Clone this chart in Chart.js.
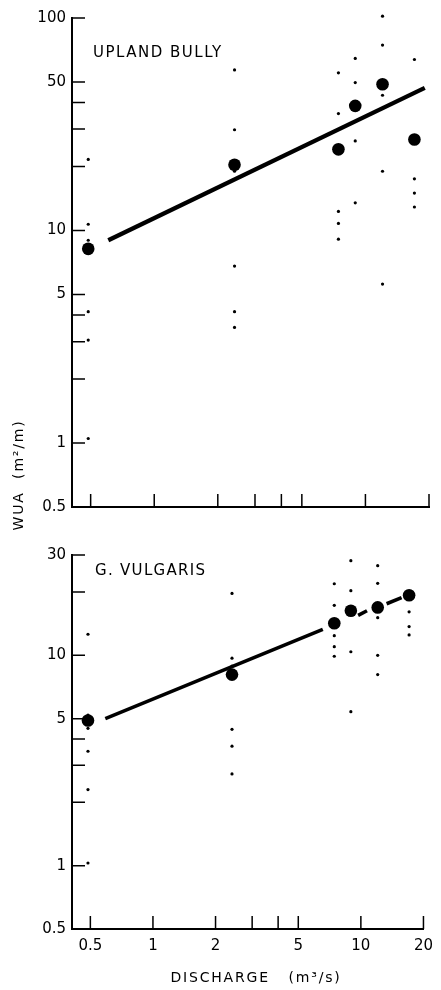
<!DOCTYPE html>
<html>
<head>
<meta charset="utf-8">
<script src="https://cdn.jsdelivr.net/npm/chart.js@4.4.0/dist/chart.umd.min.js"></script>
<style>
  body { margin: 0; background: #fff; }
  canvas { display: block; }
</style>
</head>
<body>
<canvas id="bully" width="441" height="540"></canvas>
<canvas id="vulgaris" width="441" height="450"></canvas>
<script>
// discharge of the six sampled flows (m3/s)
const discharge = [0.487, 2.40, 7.45, 8.95, 12.05, 17.06];

// upland bully: mean WUA and individual samples per flow
const bullyMean = [8.2, 20.4, 24.1, 38.6, 48.8, 26.8];
const bullySamples = [
    [21.6, 10.7, 9.0, 4.15, 3.05, 1.05],
    [57, 29.8, 19, 6.8, 4.15, 3.5],
    [55.2, 35.5, 12.3, 10.8, 9.1],
    [64.5, 49.7, 26.4, 13.5],
    [102, 74.6, 43.3, 19.0, 5.6],
    [63.8, 17.5, 15.0, 12.9]
];
const bullyFitX = [0.606, 19.1];
const bullyFitY = [9.0, 46.9];

// G. vulgaris
const vulgMean = [4.9, 8.1, 14.2, 16.3, 16.9, 19.3];
const vulgSamples = [
    [12.6, 5.2, 4.5, 3.5, 2.3, 1.03],
    [19.7, 9.7, 8.9, 4.45, 3.7, 2.73],
    [21.9, 17.3, 12.4, 11.0, 9.9],
    [28.2, 20.3, 10.4, 5.4],
    [26.7, 22.0, 15.1, 10.0, 8.1],
    [32.7, 16.1, 13.7, 12.5]
];
// fitted line is broken where it passes the dots: pairs of endpoints
const vulgFitX = [0.59, 6.56, 9.7, 10.7, 13.3, 15.7];
const vulgFitY = [5.0, 13.3, 15.5, 16.3, 17.6, 18.8];

// ticks
const xTicks = [0.5, 1, 2, 3, 4, 5, 10, 20];
const xTickLabels = [0.5, 1, 2, 5, 10, 20];
const bullyTicks = [0.5, 1, 2, 3, 4, 5, 10, 20, 30, 40, 50, 100];
const bullyTickLabels = [0.5, 1, 5, 10, 50, 100];
const vulgTicks = [0.5, 1, 2, 3, 4, 5, 10, 20, 30];
const vulgTickLabels = [0.5, 1, 5, 10, 30];

Chart.defaults.font.family = 'DejaVu Sans';
Chart.defaults.font.size = 14;
Chart.defaults.color = '#000';

// tick marks point into the plot in the original
const inwardTicks = {
    id: 'inwardTicks',
    afterDraw(chart) {
        const ctx = chart.ctx;
        const xs = chart.scales.x, ys = chart.scales.y;
        ctx.save();
        ctx.strokeStyle = '#000';
        ctx.lineWidth = 1.5;
        ctx.beginPath();
        xs.ticks.forEach(t => {
            const px = xs.getPixelForValue(t.value);
            ctx.moveTo(px, xs.top);
            ctx.lineTo(px, xs.top - 13);
        });
        ys.ticks.forEach(t => {
            if (t.value <= ys.min) return;
            const py = ys.getPixelForValue(t.value);
            ctx.moveTo(ys.right, py);
            ctx.lineTo(ys.right + 13, py);
        });
        ctx.stroke();
        ctx.restore();
    }
};

const textLabels = {
    id: 'textLabels',
    afterDraw(chart, args, opts) {
        const ctx = chart.ctx;
        (opts.items || []).forEach(it => {
            ctx.save();
            ctx.fillStyle = '#000';
            ctx.font = it.font;
            ctx.letterSpacing = it.spacing || '0px';
            ctx.textAlign = it.align || 'left';
            ctx.textBaseline = it.baseline || 'alphabetic';
            ctx.translate(it.x, it.y);
            if (it.rotate) ctx.rotate(it.rotate);
            ctx.fillText(it.text, 0, 0);
            ctx.restore();
        });
    }
};

function pointsOf(samples) {
    return discharge.flatMap((x, i) => samples[i].map(y => ({ x, y })));
}

function makeChart(id, o) {
    return new Chart(document.getElementById(id), {
        type: 'scatter',
        data: {
            datasets: [
                {
                    data: pointsOf(o.samples),
                    pointRadius: 1.6, pointBorderWidth: 0,
                    backgroundColor: '#000', clip: 10
                },
                {
                    data: discharge.map((x, i) => ({ x, y: o.mean[i] })),
                    pointRadius: 6.3, pointBorderWidth: 0,
                    backgroundColor: '#000', clip: 10
                },
                {
                    data: o.fitX.map((x, i) => ({ x, y: o.fitY[i] })),
                    showLine: true, pointRadius: 0,
                    borderColor: '#000', borderWidth: o.lineWidth,
                    segment: {
                        borderColor: c => (c.p0DataIndex % 2 ? 'rgba(0,0,0,0)' : '#000')
                    }
                }
            ]
        },
        options: {
            responsive: false,
            animation: false,
            layout: { autoPadding: false, padding: { top: o.padTop, left: 0, right: 12, bottom: 0 } },
            plugins: {
                legend: { display: false },
                tooltip: { enabled: false },
                textLabels: { items: o.texts }
            },
            scales: {
                x: {
                    type: 'logarithmic',
                    min: 0.408, max: 20,
                    afterFit: s => { s.height = o.xHeight; },
                    afterBuildTicks: s => { s.ticks = xTicks.map(v => ({ value: v })); },
                    grid: { display: false, drawTicks: false },
                    border: { display: true, color: '#000', width: 2 },
                    ticks: {
                        display: o.showXLabels,
                        autoSkip: false, maxRotation: 0, padding: 8,
                        font: { size: 15 },
                        callback: v => (xTickLabels.includes(v) ? String(v) : '')
                    }
                },
                y: {
                    type: 'logarithmic',
                    min: 0.5, max: o.yMax,
                    afterFit: s => { s.width = 72; },
                    afterBuildTicks: s => { s.ticks = o.yTicks.map(v => ({ value: v })); },
                    grid: { display: false, drawTicks: false },
                    border: { display: true, color: '#000', width: 2 },
                    ticks: {
                        autoSkip: false, padding: 6,
                        font: { size: 15 },
                        callback: v => (o.yLabels.includes(v) ? String(v) : '')
                    }
                }
            }
        },
        plugins: [inwardTicks, textLabels]
    });
}

makeChart('bully', {
    samples: bullySamples, mean: bullyMean,
    fitX: bullyFitX, fitY: bullyFitY, lineWidth: 4.3,
    yMax: 100, yTicks: bullyTicks, yLabels: bullyTickLabels,
    padTop: 18, xHeight: 33, showXLabels: false,
    texts: [
        { text: 'UPLAND BULLY', x: 93, y: 57, font: '15px DejaVu Sans', spacing: '1.5px' },
        { text: 'WUA  (m²/m)', x: 19, y: 475, font: '14px DejaVu Sans', spacing: '1.8px',
          align: 'center', baseline: 'middle', rotate: -Math.PI / 2 }
    ]
});

makeChart('vulgaris', {
    samples: vulgSamples, mean: vulgMean,
    fitX: vulgFitX, fitY: vulgFitY, lineWidth: 3.6,
    yMax: 30, yTicks: vulgTicks, yLabels: vulgTickLabels,
    padTop: 12, xHeight: 61, showXLabels: true,
    texts: [
        { text: 'G. VULGARIS', x: 95, y: 35, font: '15px DejaVu Sans', spacing: '1.3px' },
        { text: 'DISCHARGE   (m³/s)', x: 256, y: 438, font: '14px DejaVu Sans', spacing: '1.8px',
          align: 'center', baseline: 'middle' }
    ]
});
</script>
</body>
</html>
